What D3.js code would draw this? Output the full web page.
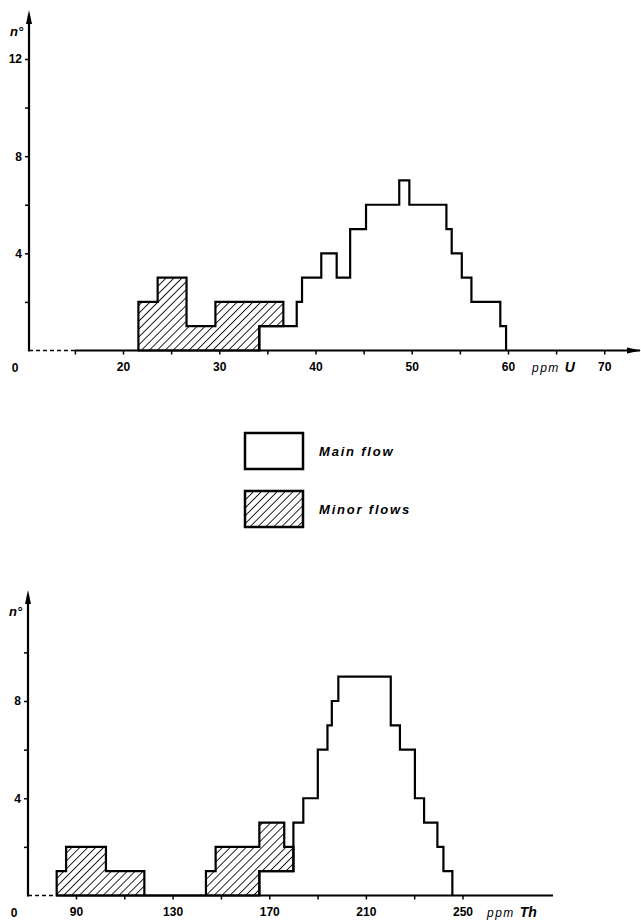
<!DOCTYPE html>
<html>
<head>
<meta charset="utf-8">
<script src="https://cdn.jsdelivr.net/npm/d3@7"></script>
<style>
  body { margin: 0; background: #fff; }
  text { font-family: "Liberation Sans", Arial, sans-serif; }
</style>
</head>
<body>
<svg id="chart"></svg>
<script>
// ---- uranium histogram (ppm U) ----
const uMainEdges   = [34.16, 38.05, 38.6, 40.6, 42.2, 43.6, 45.25, 48.7, 49.75, 53.6, 54.15, 55.2, 56.2, 59.2, 59.8];
const uMainCounts  = [1, 2, 3, 4, 3, 5, 6, 7, 6, 5, 4, 3, 2, 1];
const uMinorEdges  = [21.6, 23.6, 26.6, 29.6, 34.16, 36.66];
const uMinorCounts = [2, 3, 1, 2, 1];
const uXTicks  = [15, 20, 25, 30, 35, 40, 45, 50, 55, 60, 65, 70];
const uXLabels = [20, 30, 40, 50, 60, 70];
const uYTicks  = [2, 4, 6, 8, 10, 12];
const uYLabels = [4, 8, 12];

// ---- thorium histogram (ppm Th) ----
const thMainEdges   = [165.9, 180, 184.1, 190.1, 194.1, 195.9, 198.6, 220.3, 224.1, 230.3, 234.1, 239.6, 242.1, 245.8];
const thMainCounts  = [1, 3, 4, 6, 7, 8, 9, 7, 6, 4, 3, 2, 1];
const thMinorEdges  = [82, 85.9, 102.4, 118.3, 143.8, 147.8, 165.9, 176.2, 180];
const thMinorCounts = [1, 2, 1, 0, 1, 2, 2, 1];
const thXTicks  = [90, 110, 130, 150, 170, 190, 210, 230, 250];
const thXLabels = [90, 130, 170, 210, 250];
const thYTicks  = [2, 4, 6, 8, 10];
const thYLabels = [4, 8];

const legendLabels = ['Main flow', 'Minor flows'];

const svg = d3.select('#chart').attr('width', 641).attr('height', 921);

// hatch for minor flows
svg.append('defs').append('pattern')
    .attr('id', 'hatch')
    .attr('patternUnits', 'userSpaceOnUse')
    .attr('width', 5.6).attr('height', 5.6)
    .attr('patternTransform', 'rotate(45)')
  .append('line')
    .attr('x1', 0).attr('y1', 0).attr('x2', 0).attr('y2', 5.6)
    .attr('stroke', '#000').attr('stroke-width', 1.7);

function drawPanel(p) {
  const g = svg.append('g');
  const x = p.x, y = p.y, y0 = y(0), ox = p.originX;
  const line = d3.line().x(d => x(d[0])).y(d => y(d[1]));

  // main flow: white step outline
  const mainPts = [[p.mainEdges[0], 0]];
  p.mainCounts.forEach((c, i) => {
    mainPts.push([p.mainEdges[i], c], [p.mainEdges[i + 1], c]);
  });
  mainPts.push([p.mainEdges[p.mainEdges.length - 1], 0]);
  g.append('path').attr('d', line(mainPts))
    .attr('fill', '#fff').attr('stroke', '#000').attr('stroke-width', 2.2);

  // minor flows stacked on top of main where they overlap
  function mainAt(v) {
    for (let i = 0; i < p.mainCounts.length; i++) {
      if (v >= p.mainEdges[i] && v < p.mainEdges[i + 1]) return p.mainCounts[i];
    }
    return 0;
  }
  const base = p.minorCounts.map((c, i) => mainAt((p.minorEdges[i] + p.minorEdges[i + 1]) / 2));
  const minPts = [[p.minorEdges[0], base[0]]];
  p.minorCounts.forEach((c, i) => {
    minPts.push([p.minorEdges[i], base[i] + c], [p.minorEdges[i + 1], base[i] + c]);
  });
  for (let i = p.minorCounts.length - 1; i >= 0; i--) {
    minPts.push([p.minorEdges[i + 1], base[i]], [p.minorEdges[i], base[i]]);
  }
  g.append('path').attr('d', line(minPts) + 'Z')
    .attr('fill', 'url(#hatch)').attr('stroke', '#000').attr('stroke-width', 2.2);

  // x axis
  const xa = g.append('g').attr('transform', `translate(0,${y0})`)
    .call(d3.axisBottom(x).tickValues(p.xTicks).tickSize(4).tickPadding(8)
      .tickFormat(d => p.xLabels.includes(d) ? d : ''));
  xa.select('.domain').remove();
  xa.selectAll('line').attr('stroke-width', 1.5);
  xa.selectAll('text').attr('font-size', 12).attr('font-weight', 'bold')
    .attr('font-family', '"Liberation Sans", Arial, sans-serif');
  g.append('line').attr('x1', ox).attr('x2', x(p.breakAt)).attr('y1', y0).attr('y2', y0)
    .attr('stroke', '#000').attr('stroke-width', 1.5).attr('stroke-dasharray', '4,3');
  g.append('line').attr('x1', x(p.breakAt)).attr('x2', p.axisEnd).attr('y1', y0).attr('y2', y0)
    .attr('stroke', '#000').attr('stroke-width', 2);
  if (p.xArrow) {
    g.append('path').attr('d', `M${p.axisEnd + 1},${y0} L${p.axisEnd - 13},${y0 - 3} L${p.axisEnd - 13},${y0 + 3} Z`)
      .attr('fill', '#000');
  }

  // y axis
  const ya = g.append('g').attr('transform', `translate(${ox},0)`)
    .call(d3.axisLeft(y).tickValues(p.yTicks).tickSize(4).tickPadding(3)
      .tickFormat(d => p.yLabels.includes(d) ? d : ''));
  ya.select('.domain').remove();
  ya.selectAll('line').attr('stroke-width', 1.5);
  ya.selectAll('text').attr('font-size', 12).attr('font-weight', 'bold')
    .attr('font-family', '"Liberation Sans", Arial, sans-serif');
  g.append('line').attr('x1', ox).attr('x2', ox).attr('y1', y0 + 1).attr('y2', p.yTop + 6)
    .attr('stroke', '#000').attr('stroke-width', 2.2);
  g.append('path').attr('d', `M${ox},${p.yTop} L${ox - 3},${p.yTop + 14} L${ox + 3},${p.yTop + 14} Z`)
    .attr('fill', '#000');

  // labels
  g.append('text').attr('x', ox - 14).attr('y', y0 + 21).attr('text-anchor', 'middle')
    .attr('font-size', 12).attr('font-weight', 'bold').text('0');
  g.append('text').attr('x', ox - 19).attr('y', p.yTop + 26)
    .attr('font-size', 13).attr('font-weight', 'bold').attr('font-style', 'italic').text('n°');
  const unit = g.append('text').attr('x', p.unitX).attr('y', y0 + 21)
    .attr('font-style', 'italic').attr('font-size', 12);
  unit.append('tspan').attr('letter-spacing', 1.5).text('ppm ');
  unit.append('tspan').attr('font-weight', 'bold').attr('font-size', 14).text(p.element);
}

drawPanel({
  x: d3.scaleLinear().domain([20, 60]).range([123, 508]),
  y: d3.scaleLinear().domain([0, 12]).range([350.5, 59]),
  originX: 29, yTop: 10, breakAt: 15, axisEnd: 640, xArrow: true,
  mainEdges: uMainEdges, mainCounts: uMainCounts,
  minorEdges: uMinorEdges, minorCounts: uMinorCounts,
  xTicks: uXTicks, xLabels: uXLabels, yTicks: uYTicks, yLabels: uYLabels,
  unitX: 532, element: 'U'
});

drawPanel({
  x: d3.scaleLinear().domain([90, 250]).range([76, 462.5]),
  y: d3.scaleLinear().domain([0, 8]).range([895.5, 701]),
  originX: 28, yTop: 590, breakAt: 82, axisEnd: 553, xArrow: false,
  mainEdges: thMainEdges, mainCounts: thMainCounts,
  minorEdges: thMinorEdges, minorCounts: thMinorCounts,
  xTicks: thXTicks, xLabels: thXLabels, yTicks: thYTicks, yLabels: thYLabels,
  unitX: 487, element: 'Th'
});

// legend
const leg = svg.append('g');
const legFills = ['#fff', 'url(#hatch)'];
legendLabels.forEach((lab, i) => {
  const top = 433 + i * 58;
  leg.append('rect').attr('x', 245).attr('y', top).attr('width', 58).attr('height', 36)
    .attr('fill', legFills[i]).attr('stroke', '#000').attr('stroke-width', 2.5);
  leg.append('text').attr('x', 319).attr('y', top + 23)
    .attr('font-size', 13).attr('font-weight', 'bold').attr('font-style', 'italic')
    .attr('letter-spacing', 1.8).text(lab);
});
</script>
</body>
</html>
